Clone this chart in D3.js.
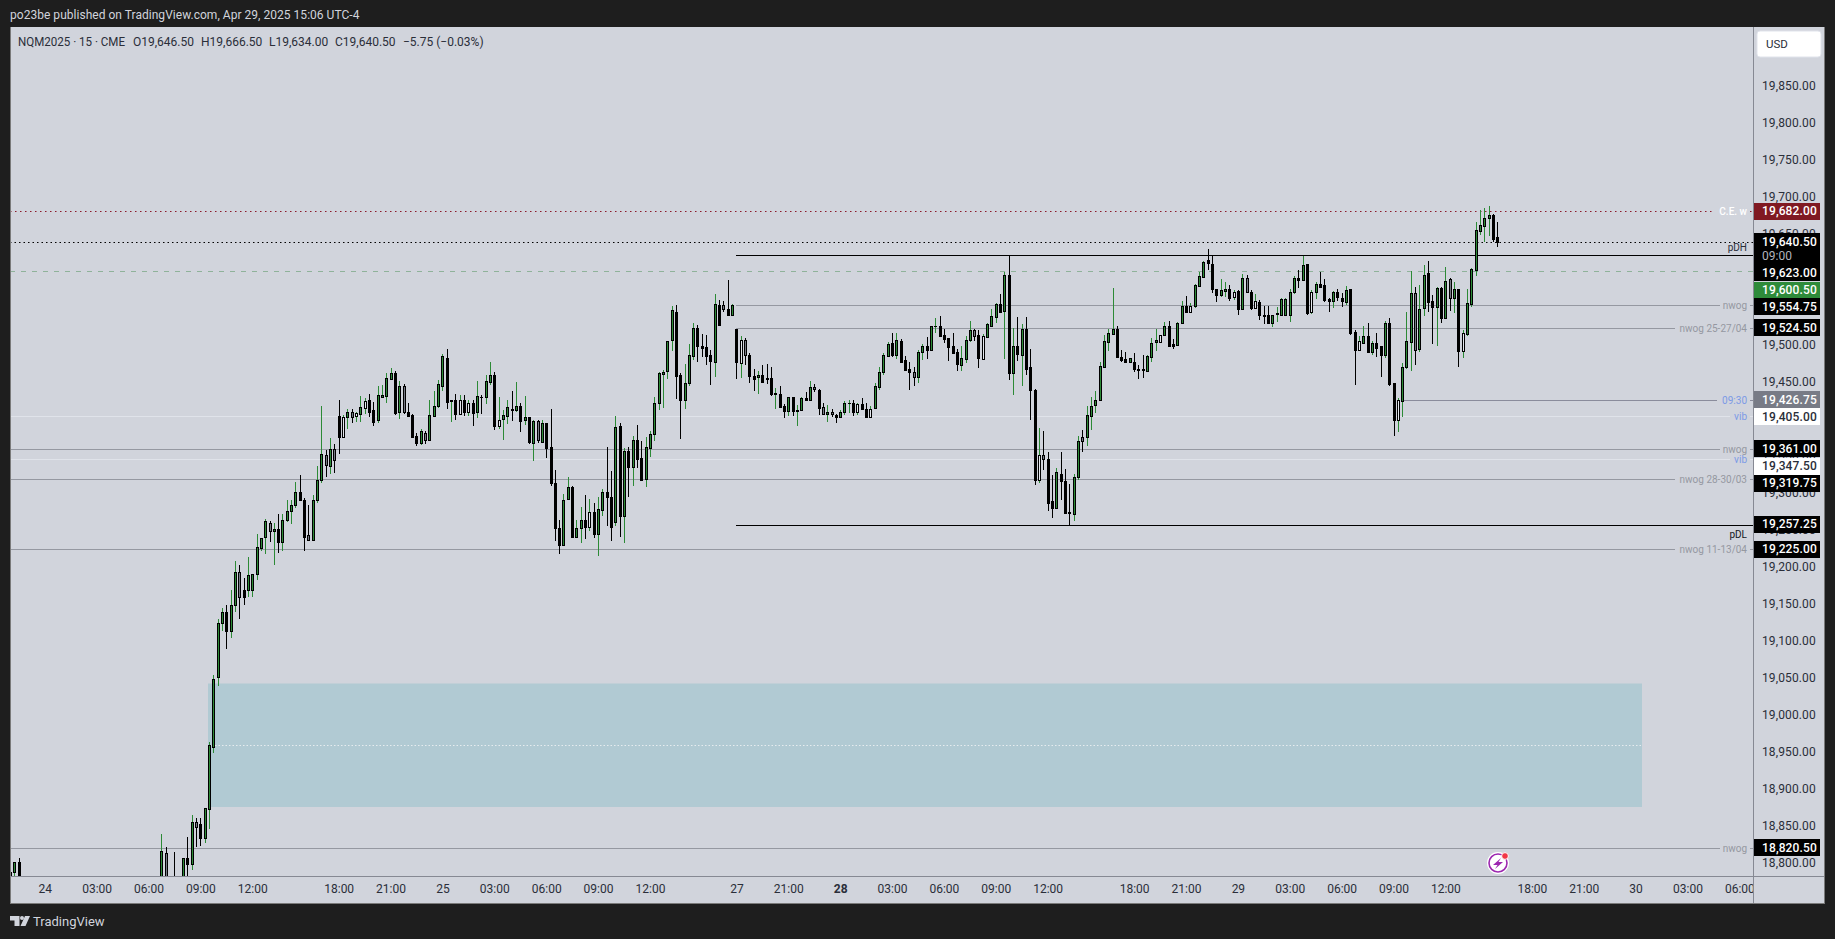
<!DOCTYPE html>
<html><head><meta charset="utf-8">
<script src="https://cdn.jsdelivr.net/npm/d3@7/dist/d3.min.js"></script>
<style>html,body{margin:0;padding:0;background:#1e1e1e;overflow:hidden}svg{display:block}text{font-family:Roboto,sans-serif}</style>
</head><body><svg id="c" width="1835" height="939"></svg>
<script>
const barIndex=[-8,-7,-6,27,28,30].concat(d3.range(32,337));
const highs=[18788,18802,18808,18840,18822,18816,
18808,18836,18866,18861,18861,18875,18965,19055,
19130,19145,19150,19170,19209,19204,19186,19214,19192,19246,
19240,19266,19263,19261,19273,19273,19292,19291,19316,19325,
19294,19285,19298,19338,19419,19359,19375,19367,19427,19406,
19414,19414,19411,19432,19429,19435,19424,19446,19447,19463,
19470,19466,19452,19448,19423,19407,19382,19388,19384,19427,
19439,19453,19489,19496,19426,19435,19433,19433,19427,19427,
19452,19433,19460,19478,19465,19431,19413,19427,19439,19451,
19423,19432,19403,19400,19400,19400,19396,19415,19332,19264,
19300,19323,19311,19265,19282,19298,19293,19287,19296,19306,
19363,19331,19405,19396,19362,19363,19378,19393,19371,19377,
19385,19431,19465,19467,19506,19553,19555,19463,19475,19502,
19530,19528,19516,19515,19494,19570,19562,19560,19589,19556,
19523,19513,19510,19490,19468,19466,19474,19475,19471,19443,
19445,19421,19431,19431,19420,19430,19437,19452,19448,19442,
19422,19420,19414,19408,19413,19425,19426,19427,19422,19429,
19423,19418,19450,19471,19490,19505,19517,19517,19509,19486,
19478,19471,19494,19502,19512,19527,19537,19540,19522,19510,
19517,19495,19499,19513,19533,19523,19521,19516,19530,19550,
19557,19570,19600,19622,19524,19539,19529,19539,19495,19441,
19389,19385,19356,19325,19335,19356,19333,19313,19326,19378,
19386,19418,19431,19439,19478,19514,19523,19578,19527,19494,
19491,19483,19490,19474,19487,19487,19510,19522,19515,19532,
19534,19509,19532,19560,19567,19557,19584,19600,19615,19630,
19621,19577,19590,19586,19582,19575,19575,19597,19596,19575,
19570,19562,19554,19554,19542,19552,19565,19564,19577,19594,
19602,19621,19610,19575,19586,19600,19590,19564,19574,19576,
19571,19581,19576,19521,19513,19527,19531,19506,19517,19499,
19534,19537,19450,19429,19477,19545,19601,19579,19582,19609,
19614,19568,19579,19579,19606,19591,19586,19576,19521,19577,
19605,19667,19683,19686,19689,19678,19666.5];
const bodyTops=[18788,18802,18802,18817,18815,18775,
18808,18807,18856,18856,18853,18875,18960,19050,
19125,19140,19140,19150,19194,19194,19170,19190,19191,19228,
19240,19263,19261,19252,19252,19264,19276,19284,19302,19302,
19292,19244,19291,19319,19353,19352,19361,19360,19405,19403,
19411,19410,19409,19417,19425,19426,19413,19433,19434,19456,
19463,19463,19445,19445,19410,19406,19378,19384,19382,19406,
19419,19448,19486,19484,19426,19427,19427,19427,19422,19422,
19432,19431,19452,19461,19461,19400,19406,19417,19415,19419,
19418,19403,19403,19398,19398,19396,19396,19363,19315,19253,
19292,19309,19309,19254,19265,19265,19275,19275,19279,19302,
19302,19295,19390,19391,19357,19357,19373,19372,19348,19363,
19380,19423,19463,19465,19506,19548,19545,19460,19449,19487,
19524,19524,19500,19498,19487,19556,19555,19555,19550,19555,
19523,19507,19508,19487,19459,19460,19461,19456,19456,19436,
19435,19418,19431,19430,19413,19429,19429,19444,19444,19440,
19417,19410,19410,19406,19411,19422,19423,19423,19421,19421,
19415,19415,19445,19464,19487,19502,19503,19507,19506,19480,
19468,19464,19492,19499,19499,19527,19527,19527,19515,19510,
19499,19491,19483,19507,19521,19521,19514,19513,19529,19540,
19556,19556,19596,19596,19500,19499,19522,19522,19471,19440,
19352,19352,19347,19290,19329,19327,19317,19275,19322,19371,
19377,19406,19419,19427,19472,19506,19517,19523,19523,19485,
19482,19483,19478,19468,19468,19486,19504,19507,19514,19527,
19527,19502,19530,19554,19553,19553,19582,19594,19613,19616,
19611,19577,19575,19577,19576,19572,19574,19591,19591,19572,
19560,19559,19541,19541,19542,19544,19563,19563,19573,19591,
19592,19609,19610,19573,19583,19583,19582,19563,19572,19572,
19565,19575,19576,19518,19506,19513,19513,19503,19503,19499,
19530,19530,19450,19426,19471,19506,19571,19571,19550,19596,
19598,19560,19578,19578,19588,19590,19576,19576,19517,19557,
19603,19656,19663,19672,19676,19677,19646.5];
const bodyBottoms=[18783,18788,18770,18770,18770,18765,
18770,18800,18799,18850,18834,18834,18874,18958,
19052,19125,19115,19115,19150,19160,19160,19170,19170,19191,
19226,19241,19250,19249,19234,19234,19265,19276,19284,19292,
19242,19238,19238,19291,19318,19339,19338,19346,19376,19377,
19403,19404,19405,19407,19416,19411,19397,19399,19431,19432,
19455,19409,19410,19410,19405,19376,19368,19368,19372,19372,
19405,19419,19446,19424,19425.5,19407,19407,19410,19411,19409,
19411,19430,19430,19451,19391,19391,19401,19405,19413,19413,
19398,19400,19370,19369,19372,19370,19362,19314,19253,19230,
19230,19293,19241,19241,19254,19255,19255,19245,19245,19278,
19295,19255,19262,19270,19270,19336,19336,19347,19318,19320,
19362,19381,19423,19462,19466,19507,19459,19427,19427,19449,
19486,19500,19497,19486,19479,19478,19528,19550,19541,19541,
19478,19477,19488,19459,19455,19458,19451,19455,19435,19435,
19417,19412,19412,19412,19412,19413,19427,19427,19441,19416,
19407,19407,19407,19403,19403,19411,19422,19410,19410,19415,
19404,19404,19416,19444,19464,19486,19487,19487,19478,19467,
19464,19458,19458,19492,19494,19494,19526,19513,19509,19498,
19490,19475,19474,19482,19508,19513,19483,19482,19512,19527,
19539,19545,19547,19463,19463,19489,19487,19468,19440,19318,
19318,19347,19287,19281,19281,19317,19274,19274,19272,19323,
19371,19377,19405,19420,19427,19471,19505,19516,19485,19480,
19478,19478,19469,19467,19467,19466,19485,19505,19505,19514,
19499,19500,19501,19530,19546,19546,19553,19581,19593,19612,
19577,19569,19569,19574,19565,19566,19550,19550,19572,19551,
19551,19541,19540,19531,19530,19543,19541,19541,19541,19573,
19589,19589,19544,19546,19573,19579,19562,19560,19561,19566,
19560,19559,19517,19494,19494,19504,19491,19491,19497,19487,
19487,19448,19400,19400,19425,19471,19505,19494,19496,19551,
19559,19552,19552,19537,19537,19565,19564,19493,19493,19516,
19556,19602,19655,19662,19672,19644,19640.5];
const lows=[18770,18775,18765,18765,18760,18760,
18765,18770,18792,18823,18824,18828,18847,18950,
19040,19115,19090,19105,19140,19130,19150,19160,19160,19183,
19222,19219,19234,19204,19220,19222,19262,19259,19281,19292,
19222,19238,19237,19288,19314,19323,19327,19328,19353,19377,
19388,19396,19397,19397,19407,19404,19391,19395,19430,19423,
19453,19406,19401,19408,19405,19375,19364,19366,19367,19372,
19405,19416,19439,19415,19397,19399,19407,19405,19405,19391,
19402,19408,19421,19447,19386,19388,19373,19394,19398,19411,
19383,19393,19367,19344,19368,19369,19348,19311,19236,19219,
19230,19293,19241,19241,19233,19239,19250,19240,19216,19270,
19256,19236,19256,19241,19233,19295,19310,19334,19318,19309,
19350,19371,19413,19416,19455,19493,19428,19374,19415,19446,
19481,19478,19485,19474,19447,19458,19528,19545,19540,19541,
19455,19456,19474,19450,19439,19435,19451,19448,19432,19414,
19417,19402,19405,19405,19391,19413,19425,19425,19437,19406,
19406,19397,19404,19395,19403,19406,19409,19405,19406,19414,
19404,19404,19416,19440,19460,19485,19485,19482,19477,19467,
19440,19445,19450,19481,19482,19493,19517,19513,19504,19479,
19489,19466,19466,19477,19505,19506,19470,19482,19512,19527,
19530,19544,19482,19454,19433,19479,19446,19460,19400,19312,
19314,19332,19277,19267,19281,19291,19274,19257,19263,19318,
19356,19364,19386,19409,19425,19470,19493,19514,19485,19478,
19478,19476,19465,19455,19456,19464,19478,19493,19505,19514,
19499,19496,19501,19530,19544,19546,19551,19581,19593,19602,
19571,19559,19566,19566,19560,19562,19541,19550,19572,19548,
19550,19535,19529,19530,19525,19532,19540,19541,19532,19570,
19578,19589,19541,19543,19563,19579,19559,19546,19551,19560,
19552,19555,19514,19447,19494,19504,19491,19487,19485,19458,
19483,19445,19378,19383,19404,19468,19466,19474,19491,19540,
19545,19502,19500,19531,19536,19547,19544,19471,19483,19513,
19552,19594,19650,19640,19648,19640,19634];
const bodyKinds=("kgkgak"+"gkgakggg"+"ggkggakggg"+"ggagkggggk"+"kagggagakh"+"gahghkkggg"+"gkgakkkgag"+"gggkgkhkhk"+"gkggkhggkg"+"kgkgagkkkk"+"ggkggkhkgg"+"kkgkgkgkkg"+"ggggggkkgg"+"gkkkkgkakg"+"khakkgkkkg"+"kkgkggkgak"+"agakgggkhk"+"khggggkgkk"+"kaggkggkkk"+"kkgggakhgg"+"gkgkgkgkkk"+"hakkgkkkgg"+"aggggggg"+"kk"+"kgkkkggghg"+"kkggkhgggk"+"kkggkhkgak"+"hkkkgggggg"+"kgkhgkkkgk"+"kgkkhgkgkk"+"gkkhgggagg"+"kkgkgagkhg"+"gggggkk").split("");
if([highs,bodyTops,bodyBottoms,lows,bodyKinds].some(a=>a.length!==barIndex.length)) throw new Error("len "+[highs.length,bodyTops.length,bodyBottoms.length,lows.length,bodyKinds.length,barIndex.length]);

const priceTicks=d3.range(18800,19851,50);
const timeTickBars=[0,12,24,36,48,68,80,92,104,116,128,140,160,172,184,196,208,220,232,252,264,276,288,300,312,324,344,356,368,380,392];
const timeTickLabels=["24","03:00","06:00","09:00","12:00","18:00","21:00","25","03:00","06:00","09:00","12:00","27","21:00","28","03:00","06:00","09:00","12:00","18:00","21:00","29","03:00","06:00","09:00","12:00","18:00","21:00","30","03:00","06:00"];
const levelValues=[19682,19640.5,19623,19600.5,19554.75,19524.5,19426.75,19405,19361,19347.5,19319.75,19257.25,19225,18820.5];
const levelLabels=["C.E. w","","pDH","","nwog","nwog 25-27/04","09:30","vib","nwog","vib","nwog 28-30/03","pDL","nwog 11-13/04","nwog"];
const tagTexts=["19,682.00","19,640.50","19,623.00","19,600.50","19,554.75","19,524.50","19,426.75","19,405.00","19,361.00","19,347.50","19,319.75","19,257.25","19,225.00","18,820.50"];
const zoneTop=19043.4, zoneBottom=18876.5, zoneMid=18960, zoneStartBar=38, zoneEndBar=369.5;

// styles, per level (same order as levelValues)
const levelStart=[10,10,736,10,736,736,1403,10,10,10,10,736,10,10];
const levelEnd=[1712,1753,1753,1753,1720,1675,1717,1730,1720,1730,1675,1753,1675,1720];
const levelColor=["#8b1a2a","#000","#000","#8fb29a","#9598a1","#9598a1","#8a8c9c","#e0e3ea","#9598a1","#e0e3ea","#9598a1","#000","#9598a1","#9598a1"];
const levelDash=["1.5,3.5","1.5,3","","5,6","","","","","","","","","",""];
const labelColor=["#fff","#2a2e39","#2a2e39","#000","#9598a1","#9598a1","#7c9ae6","#7c9ae6","#9598a1","#7c9ae6","#9598a1","#131722","#9598a1","#9598a1"];
const labelNudge=[0,0,-8,0,0,0,0,0,0,0,0,9,0,0];
const tagFill=["#801922","#000","#000","#2e8b3a","#000","#000","#787b86","#fff","#000","#fff","#000","#000","#000","#000"];
const tagInk=["#fff","#fff","#fff","#fff","#fff","#fff","#fff","#2a2e39","#fff","#2a2e39","#fff","#fff","#fff","#fff"];
const tagNudge=[0,0,18,18.7,1.5,0,0,0.5,0,7.5,4,-1,0,-0.5];

const fillFor={g:"#2c8a36",k:"#000",h:"#e4e7ed",a:"#787b86"};
const wickFor={g:"#2c8a36",k:"#000",h:"#2c8a36",a:"#000"};

const svg=d3.select("#c");
const L=10,R=1753,T=27,B=876,FR=1824,FB=903;
const y=d3.scaleLinear().domain([19850,18800]).range([86.7,863.6]);
const x=d3.scaleLinear().domain([0,368]).range([44.7,1635.6]);
const py=v=>Math.round(y(v));

svg.append("rect").attr("width",1835).attr("height",939).attr("fill","#1e1e1e");
svg.append("rect").attr("x",L).attr("y",T).attr("width",FR-L).attr("height",FB-T).attr("fill","#d1d4dc");
const defs=svg.append("defs");
defs.append("clipPath").attr("id","pl").append("rect").attr("x",L).attr("y",T).attr("width",R-L).attr("height",B-T);
defs.append("clipPath").attr("id","ta").append("rect").attr("x",L).attr("y",B).attr("width",R-L).attr("height",FB-B);

// zone
const plot=svg.append("g").attr("clip-path","url(#pl)");
const zx0=Math.round(x(zoneStartBar))-1, zx1=Math.round(x(zoneEndBar));
plot.append("rect").attr("x",zx0).attr("y",y(zoneTop)).attr("width",zx1-zx0).attr("height",y(zoneBottom)-y(zoneTop)).attr("fill","#b1cad3");
plot.append("line").attr("x1",zx0).attr("x2",zx1).attr("y1",py(zoneMid)+.5).attr("y2",py(zoneMid)+.5).attr("stroke","#e6ecef").attr("stroke-dasharray","1.5,2");

// level lines
levelValues.forEach((v,i)=>{
  const yy=py(v)+.5;
  plot.append("line").attr("x1",levelStart[i]).attr("x2",levelEnd[i]).attr("y1",yy).attr("y2",yy)
    .attr("stroke",levelColor[i]).attr("stroke-width",1).attr("stroke-dasharray",levelDash[i]||null);
  if(levelLabels[i]&&levelEnd[i]<R) plot.append("line").attr("x1",1750).attr("x2",1753).attr("y1",yy).attr("y2",yy)
    .attr("stroke",levelColor[i]).attr("stroke-dasharray",levelDash[i]||null);
});

// candles
const bars=barIndex.map((b,i)=>({b,h:highs[i],t:bodyTops[i],e:bodyBottoms[i],l:lows[i],k:bodyKinds[i]}));
const cg=plot.append("g").attr("shape-rendering","crispEdges");
const c=cg.selectAll("g").data(bars).join("g");
c.append("rect").attr("x",d=>Math.round(x(d.b))).attr("width",1)
  .attr("y",d=>py(d.h)).attr("height",d=>Math.max(1,py(d.l)-py(d.h)))
  .attr("fill",d=>wickFor[d.k]);
c.append("rect").attr("x",d=>Math.round(x(d.b))-1).attr("width",3)
  .attr("y",d=>py(d.t)).attr("height",d=>Math.max(1,py(d.e)-py(d.t)+1))
  .attr("fill","#000");
c.filter(d=>d.k!=="k"&&py(d.e)-py(d.t)>=2).append("rect").attr("x",d=>Math.round(x(d.b))).attr("width",1)
  .attr("y",d=>py(d.t)+1).attr("height",d=>py(d.e)-py(d.t)-1)
  .attr("fill",d=>fillFor[d.k]);

// level labels
levelLabels.forEach((t,i)=>{ if(!t) return;
  svg.append("text").attr("x",1747).attr("y",py(levelValues[i])+labelNudge[i]+.5).attr("dy","0.35em")
    .attr("text-anchor","end").attr("font-size",10).attr("fill",labelColor[i])
    .attr("font-weight",i===0?500:400).text(t);
});

// frame lines
const axisC="#868993";
svg.append("path").attr("d",`M${L}.5 ${T}V${FB}.5H${FR}.5V${T}`).attr("fill","none").attr("stroke","#7a7a7a").attr("shape-rendering","crispEdges");
svg.append("line").attr("x1",L).attr("x2",FR).attr("y1",B+.5).attr("y2",B+.5).attr("stroke",axisC);
svg.append("line").attr("x1",R+.5).attr("x2",R+.5).attr("y1",T).attr("y2",FB).attr("stroke",axisC);

// price axis
const ax=svg.append("g").attr("transform",`translate(${R},-1)`)
 .call(d3.axisRight(y).tickValues(priceTicks).tickSize(0).tickPadding(9).tickFormat(d3.format(",.2f")));
ax.select(".domain").remove();
ax.selectAll("text").attr("font-size",12).attr("font-family","Roboto,sans-serif").attr("fill","#2a2e39").attr("letter-spacing","0.12px");

// time axis
const tg=svg.append("g").attr("clip-path","url(#ta)");
const tax=tg.append("g").attr("transform",`translate(0,${B})`)
 .call(d3.axisBottom(x).tickValues(timeTickBars).tickSize(0).tickPadding(8).tickFormat((d,i)=>timeTickLabels[i]));
tax.select(".domain").remove();
tax.selectAll("text").attr("font-size",12).attr("font-family","Roboto,sans-serif").attr("fill","#2a2e39")
 .attr("font-weight",(d,i)=>timeTickLabels[i]==="28"?700:400);

// price tags
tagTexts.forEach((t,i)=>{
  const cy=y(levelValues[i])+tagNudge[i];
  const isLast=i===1;
  svg.append("rect").attr("x",R+1).attr("y",Math.round(cy-8.5)).attr("width",66).attr("height",isLast?31:17).attr("rx",1).attr("fill",tagFill[i]).attr("shape-rendering","crispEdges");
});
tagTexts.forEach((t,i)=>{
  const cy=y(levelValues[i])+tagNudge[i];
  svg.append("text").attr("x",1762).attr("y",cy).attr("dy","0.35em").attr("font-size",12).attr("font-weight",500).attr("letter-spacing","0.12px").attr("fill",tagInk[i]).text(t);
});
svg.append("text").attr("x",1762).attr("y",256).attr("dy","0.35em").attr("font-size",12).attr("fill","#b2b5be").text("09:00");

// USD button
svg.append("rect").attr("x",1757).attr("y",31).attr("width",64).attr("height",26).attr("rx",3).attr("fill","#fff").attr("stroke","#e0e3eb");
svg.append("text").attr("x",1766).attr("y",44).attr("dy","0.35em").attr("font-size",11.5).attr("fill","#2a2e39").text("USD");

// header, legend
svg.append("text").attr("x",10).attr("y",15).attr("dy","0.35em").attr("font-size",12).attr("letter-spacing","0.03px").attr("fill","#d1d4dc").text("po23be published on TradingView.com, Apr 29, 2025 15:06 UTC-4");
const legendParts=["NQM2025 · 15 · CME","O19,646.50","H19,666.50","L19,634.00","C19,640.50","−5.75 (−0.03%)"];
const legendX=[18,133,201,269,335,403];
legendParts.forEach((t,i)=>{
  const e=svg.append("text").attr("x",legendX[i]).attr("y",42).attr("dy","0.35em").attr("font-size",12).attr("fill","#2a2e39").text(t);
  if(i===0) e.attr("textLength",107).attr("lengthAdjust","spacingAndGlyphs");
});

// footer logo
svg.append("path").attr("d","M10 916H19.5V926H14.5V920.5H10Z M25 916H30L25.5 926H20.5Z").attr("fill","#d1d4dc");
svg.append("circle").attr("cx",22).attr("cy",918).attr("r",2).attr("fill","#d1d4dc");
svg.append("text").attr("x",33).attr("y",921.5).attr("dy","0.35em").attr("font-size",13).attr("fill","#d1d4dc").text("TradingView");

// spark icon
const ic=svg.append("g").attr("transform","translate(1498,863)");
ic.append("circle").attr("r",11).attr("fill","#fff");
ic.append("circle").attr("r",9).attr("fill","none").attr("stroke","#9c27b0").attr("stroke-width",1.6);
ic.append("path").attr("d","M3 -5 L-5 2 H-0.5 L-3 6 L5 -1 H0.5 Z").attr("fill","#9c27b0");
ic.append("circle").attr("cx",7).attr("cy",-7).attr("r",3.4).attr("fill","#f23645").attr("stroke","#fff");
</script></body></html>
